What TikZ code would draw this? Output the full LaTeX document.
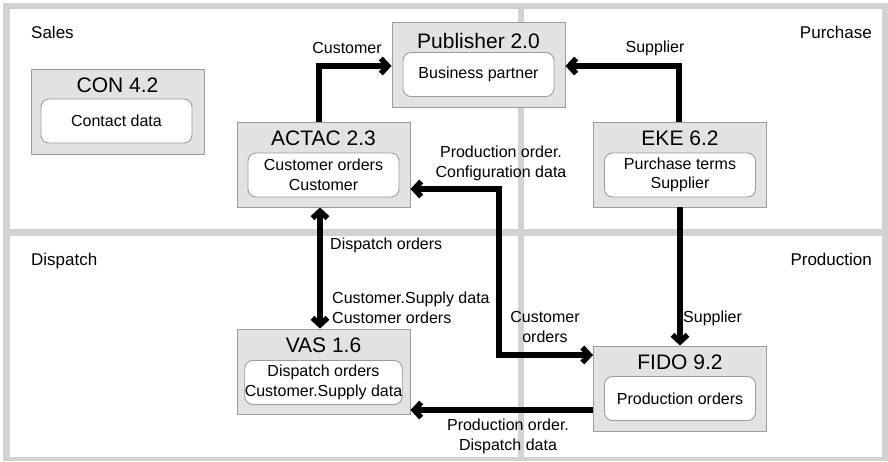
\documentclass[tikz,border=0pt]{standalone}
\usepackage{fontspec}
\setmainfont{Liberation Sans}
\usetikzlibrary{arrows.meta}
\definecolor{framegray}{HTML}{D2D2D2}
\definecolor{boxfill}{HTML}{E2E2E2}
\definecolor{boxline}{HTML}{9C9C9C}
\tikzset{
  sysbox/.style={draw=boxline, fill=boxfill, line width=0.9pt, minimum width=173pt, minimum height=85pt, inner sep=0pt},
  innerbox/.style={draw=boxline, fill=white, line width=0.9pt, rounded corners=8pt, minimum width=151pt, minimum height=44pt, inner sep=0pt, align=center, font=\fontsize{16}{19.5}\selectfont},
  title/.style={anchor=base, inner sep=0pt, font=\fontsize{21}{24}\selectfont},
  lbl/.style={inner sep=0pt, font=\fontsize{16}{20}\selectfont},
  region/.style={inner sep=0pt, font=\fontsize{17}{20}\selectfont},
  barb/.style={Straight Barb[length=7pt,width=15pt]},
  flow/.style={line width=5.5pt, -{Straight Barb[length=7pt,width=15pt]}},
  flow2/.style={line width=5.5pt, {Straight Barb[length=7pt,width=15pt]}-{Straight Barb[length=7pt,width=15pt]}},
}
\begin{document}
\begin{tikzpicture}[x=1pt,y=-1pt]
\useasboundingbox (0,0) rectangle (888,461);
% frame
\fill[framegray] (3,3) rectangle (888,461);
\fill[white] (10,9) rectangle (518,229);
\fill[white] (524,9) rectangle (882,229);
\fill[white] (10,236) rectangle (518,457);
\fill[white] (524,236) rectangle (882,457);
% regions
\node[region, anchor=base west] (rsales) at (31,38) {Sales};
\node[region, anchor=base east] (rpurch) at (872,38) {Purchase};
\node[region, anchor=base west] (rdisp) at (31,265) {Dispatch};
\node[region, anchor=base east] (rprod) at (872,265) {Production};
% CON
\node[sysbox] (con) at (117.5,111.5) {};
\node[title] (contitle) at (117.5,92) {CON 4.2};
\node[innerbox] (coninner) at (116.5,121) {Contact data};
% Publisher
\node[sysbox] (pub) at (478.5,64.5) {};
\node[title] (pubtitle) at (478.5,48) {Publisher 2.0};
\node[innerbox] (pubinner) at (478.5,74.5) {Business partner};
% ACTAC
\node[sysbox] (actac) at (323.5,164.5) {};
\node[title] (actactitle) at (323.5,145.5) {ACTAC 2.3};
\node[innerbox] (actacinner) at (323.5,175) {Customer orders\\Customer};
% EKE
\node[sysbox] (eke) at (680,164.5) {};
\node[title] (eketitle) at (680,145.5) {EKE 6.2};
\node[innerbox] (ekeinner) at (680,175) {Purchase terms\\Supplier};
% VAS
\node[sysbox] (vas) at (323.5,371.5) {};
\node[title] (vastitle) at (323.5,352.5) {VAS 1.6};
\node[innerbox] (vasinner) at (323.5,382.5) {Dispatch orders\\Customer.Supply data};
% FIDO
\node[sysbox] (fido) at (680,388.5) {};
\node[title] (fidotitle) at (680,369.5) {FIDO 9.2};
\node[innerbox] (fidoinner) at (680,398.5) {Production orders};
% connector helper coordinates
\coordinate (c1) at (319,66);
\coordinate (c2) at (679,66);
\coordinate (c4a) at (499,189);
\coordinate (c4b) at (499,355);
\coordinate (c5) at (320,0);
\coordinate (c6) at (500,410);
% connectors
\draw[flow] (actac.north -| c1) -- (c1) -- (pub.west |- c1);
\draw[flow] (eke.north -| c2) -- (c2) -- (pub.east |- c2);
\draw[flow] (eke.south) -- (fido.north);
\draw[flow2] (actac.east |- c4a) -- (c4a) -- (c4b) -- (fido.west |- c4b);
\draw[flow2] (actac.south -| c5) -- (vas.north -| c5);
\draw[flow] (fido.west |- c6) -- (vas.east |- c6);
% connector labels
\node[lbl, anchor=base] (l1) at (347,53) {Customer};
\node[lbl, anchor=base] (l2) at (655,52) {Supplier};
\node[lbl, anchor=base west] (l3) at (683,322) {Supplier};
\node[lbl, anchor=base, align=center] (l4) at (501,177) {Production order.\\Configuration data};
\node[lbl, anchor=base, align=center] (l5) at (545,342) {Customer\\orders};
\node[lbl, anchor=base west] (l6) at (330,249) {Dispatch orders};
\node[lbl, anchor=base west, align=left] (l7) at (332,323) {Customer.Supply data\\Customer orders};
\node[lbl, anchor=base, align=center] (l8) at (508,450) {Production order.\\Dispatch data};
\end{tikzpicture}
\end{document}
